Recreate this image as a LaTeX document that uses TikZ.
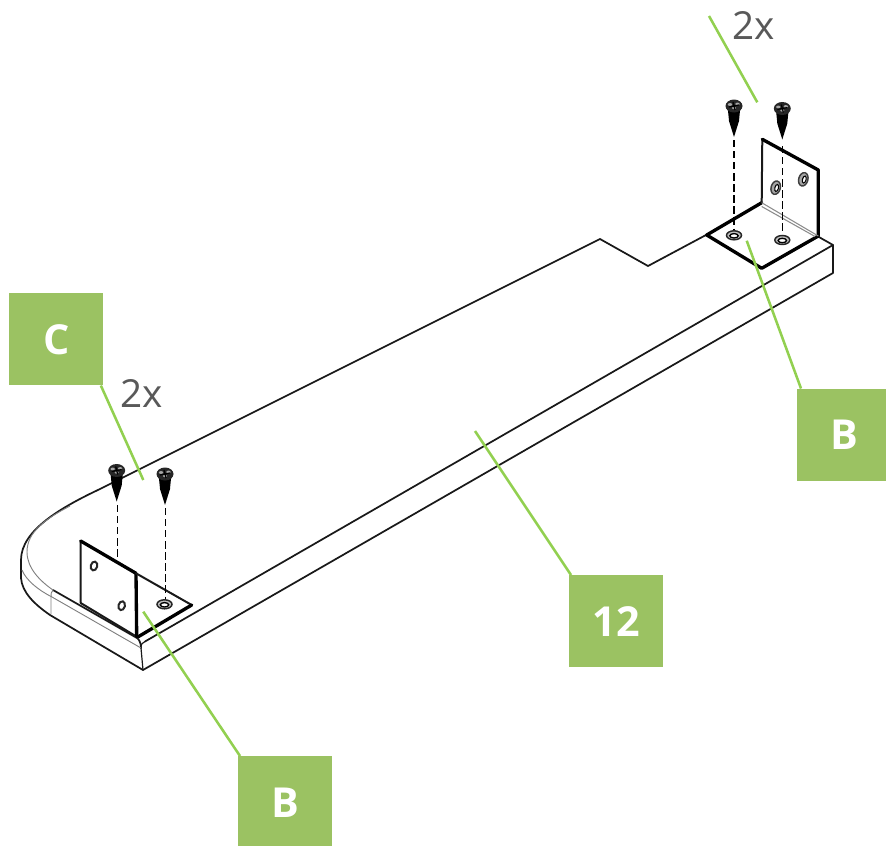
\documentclass[tikz,border=0pt]{standalone}
\usepackage{fontspec}
\setmainfont{Open Sans}
\definecolor{boxgreen}{RGB}{155,194,98}
\definecolor{leadgreen}{RGB}{146,208,80}
\definecolor{txtgrey}{RGB}{89,89,89}
\tikzset{
  edgeline/.style={black!90,line width=1.3pt,line join=round,line cap=round},
  plate/.style={black,line width=2.5pt,line join=round,line cap=round},
  thinplate/.style={black!90,line width=1.5pt,line join=round,line cap=round},
  bendline/.style={black!45,line width=0.8pt},
  faint/.style={black!50,line width=0.7pt},
  leader/.style={leadgreen,line width=1.9pt},
  guide/.style={black,line width=1.1pt,dash pattern=on 5.5pt off 2.8pt},
  labelbox/.style={fill=boxgreen,minimum width=70.5pt,minimum height=69pt,inner sep=0pt,text=white,font=\bfseries\fontsize{31}{36}\selectfont},
  counttext/.style={text=txtgrey,inner sep=0pt,font=\fontsize{29}{34}\selectfont},
  screwpic/.pic={
    \fill[black] (-6.5,0) .. controls (-6,5) and (-5.5,9) .. (-5,15) -- (0,31) -- (5,15) .. controls (5.5,9) and (6,5) .. (6.5,0) -- cycle;
    \fill[black!85] (0,0) ellipse [x radius=8.5,y radius=6.5];
    \fill[black!35] (-4,-1.5) ellipse [x radius=2.2,y radius=1.4];
    \fill[black!35] (3.5,-2) ellipse [x radius=2.2,y radius=1.4];
    \fill[black!35] (0,2) ellipse [x radius=2,y radius=1.2];
    \draw[black,line width=0.9pt] (-5,1) -- (5,-1) (-1,-4) -- (1,4);
  },
  floorhole/.pic={
    \draw[black!85,fill=black!25,line width=1.1pt] (0,0) ellipse [x radius=7.5,y radius=4.5];
    \draw[black,fill=white,line width=1pt] (0,0.5) ellipse [x radius=4.2,y radius=2.2];
  },
  wallhole/.pic={
    \draw[black!75,fill=black!35,line width=1.1pt,rotate=-15] (0,0) ellipse [x radius=4.6,y radius=6.8];
    \draw[black,fill=white,line width=0.8pt,rotate=-15] (1,0) ellipse [x radius=1.8,y radius=3.6];
  },
  smallhole/.pic={
    \draw[black!85,fill=white,line width=1.5pt,rotate=-15] (0,0) ellipse [x radius=3.2,y radius=4.5];
  }
}
\begin{document}
\begin{tikzpicture}[x=0.75pt,y=-0.75pt]
\useasboundingbox (0,0) rectangle (886,846);
% board
\draw[edgeline] (706,235) -- (648,266) -- (600,239) -- (100,489)
  .. controls (62,507) and (21,530) .. (21,560) -- (21,578)
  .. controls (22,592) and (34,604) .. (50,615) -- (143,670) -- (833,273) -- (833,245) -- (818,236.5);
\draw[edgeline] (145,641.5) -- (833,245);
\draw[edgeline,line width=0.9pt] (141,648) .. controls (141,644) and (142,643) .. (145,641.5);
\draw[edgeline,line width=0.9pt] (141,648) -- (143,670);
\draw[edgeline] (53,590) -- (137,638) .. controls (139,639) and (141,643) .. (141,648);
\draw[faint] (70,506) .. controls (45,519) and (27,532) .. (27,552)
  .. controls (27,568) and (40,581) .. (53,590);
\draw[faint] (22,570) .. controls (26,580) and (38,590) .. (52,597) -- (141,648);
\draw[faint] (53,590) .. controls (51,592) and (51,594) .. (51,597) -- (51,614);
% right bracket
\draw[plate] (706.7,235) -- (761.7,202.7);
\draw[plate] (706.7,235) -- (761.7,268.3) -- (818.3,236);
\draw[thinplate] (761.7,202.7) -- (762.3,139.3);
\draw[plate] (762.3,139.3) -- (818.3,170) -- (818.3,236);
\draw[bendline] (761.7,202.7) -- (818.3,236);
\draw[bendline] (761.7,206.5) -- (815,236.5);
\pic at (775.7,187.7) {wallhole};
\pic at (803.3,179.3) {wallhole};
% left bracket
\draw[thinplate] (80.7,541) -- (80.7,603) -- (136.7,636.7);
\draw[plate] (80.7,541) -- (136,573.3);
\draw[plate] (136,573.3) -- (136.7,636.7);
\draw[thinplate] (136,573.3) -- (191.7,605);
\draw[plate] (138.3,636.7) -- (191.7,605);
\pic at (94,566) {smallhole};
\pic at (121.7,605.7) {smallhole};
% guides
\coordinate (sr1) at (734,140); \coordinate (hr1) at (734,232);
\coordinate (sr2) at (782.5,146); \coordinate (hr2) at (782.5,236);
\coordinate (sl1) at (117.3,505); \coordinate (hl1) at (117.3,557);
\coordinate (sl2) at (165.7,508); \coordinate (hl2) at (165.7,600);
\draw[guide] (sr1) -- (hr1);
\draw[guide] (sr2) -- (hr2);
\draw[guide] (sl1) -- (hl1);
\draw[guide] (sl2) -- (hl2);
\pic at (734,235.3) {floorhole};
\pic at (782.3,240) {floorhole};
\pic at (164.5,604.3) {floorhole};
\pic at (734,106) {screwpic};
\pic at (782.3,108.5) {screwpic};
\pic at (116.7,470.5) {screwpic};
\pic at (165,474) {screwpic};
% labels
\node[labelbox,anchor=north west] (boxC) at (9,293) {C};
\node[labelbox,anchor=north west] (boxBr) at (797,388.5) {B};
\node[labelbox,anchor=north west] (box12) at (569,575) {12};
\node[labelbox,anchor=north west] (boxBl) at (238,756) {B};
\node[counttext] (twoTop) at (754,26) {2x};
\node[counttext] (twoLeft) at (142,393) {2x};
% leaders
\coordinate (topA) at (709,16); \coordinate (topB) at (757.3,102.3);
\coordinate (brR) at (746.7,240.7);
\coordinate (brL) at (143.3,611.7);
\coordinate (tgtC) at (143.3,480);
\coordinate (tgt12) at (475,431);
\draw[leader] (topA) -- (topB);
\draw[leader] ([xshift=3pt]boxBr.north west) -- (brR);
\draw[leader] ([xshift=-2pt]boxC.south east) -- (tgtC);
\draw[leader] ([xshift=1.5pt]box12.north west) -- (tgt12);
\draw[leader] ([xshift=1.5pt]boxBl.north west) -- (brL);
\end{tikzpicture}
\end{document}
